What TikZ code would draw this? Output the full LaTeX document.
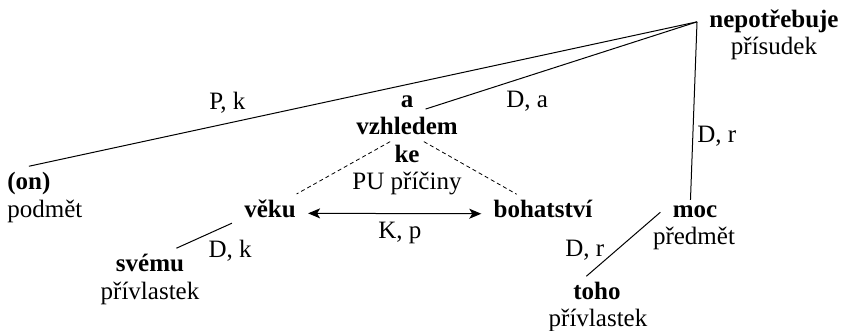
\documentclass[tikz,border=0pt]{standalone}
\usepackage{fontspec}
\setmainfont{Liberation Serif}
\usetikzlibrary{arrows.meta}
\begin{document}
\begin{tikzpicture}[x=0.5pt,y=-0.5pt,
font=\fontsize{12.5}{14}\selectfont,
>={Stealth[length=6pt,width=5pt,inset=1.5pt]},
w/.style={
font=\fontsize{12.5}{14}\selectfont\bfseries,
anchor=base,
inner xsep=6pt,
inner ysep=3pt},
f/.style={anchor=base,inner sep=2pt},
lbl/.style={inner sep=2pt},
e/.style={line width=0.5pt},
d/.style={line width=0.4pt,dash pattern=on 2pt off 1.5pt},
]
\useasboundingbox(0,0)rectangle(842,331);
%Predicate
\node[w](nepotrebuje)at(774,28){nepotřebuje};
\node[f](prisudek)at(774,55){přísudek};
%Subject
\node[w,anchor=base west](on)at(-5,190){(on)};
\node[f,anchor=base west](podmet)at(3,218){podmět};
%Adverbial
\node[w](a)at(407,108){a};
\node[w](vzhledem)at(407,135){vzhledem};
\node[w](ke)at(407,163){ke};
\node[f](pu)at(407,190){PU příčiny};
\node[w](veku)at(270,218){věku};
\node[w](svemu)at(150,272){svému};
\node[f](privl1)at(150,300){přívlastek};
\node[w](bohatstvi)at(543,218){bohatství};
%Object
\node[w](moc)at(695,218){moc};
\node[f](predmet)at(694,245){předmět};
\node[w](toho)at(597,300){toho};
\node[f](privl2)at(598,327){přívlastek};
%%Edges
\draw[e](on.north)--(nepotrebuje.west)node[lbl,pos=.297,above=3pt]{P, k};
\draw[e](a.-20)--(nepotrebuje.west)node[lbl,pos=.374,below=5pt]{D, a};
\draw[e](moc.110)--(nepotrebuje.west)node[lbl,pos=.36,right]{D, r};
\draw[e](moc.west)--(toho.125)node[lbl,pos=.59,left=4pt]{D, r};
\draw[e](veku.200)--(svemu.30)node[lbl,pos=.5,below right]{D, k};
\draw[e,<->](veku.-6)--(bohatstvi.184)node[lbl,pos=.53,below=2pt]{K, p};
\draw[d](vzhledem.222)--(veku.30);
\draw[d](vzhledem.318)--(bohatstvi.150);
\end{tikzpicture}
\end{document}
